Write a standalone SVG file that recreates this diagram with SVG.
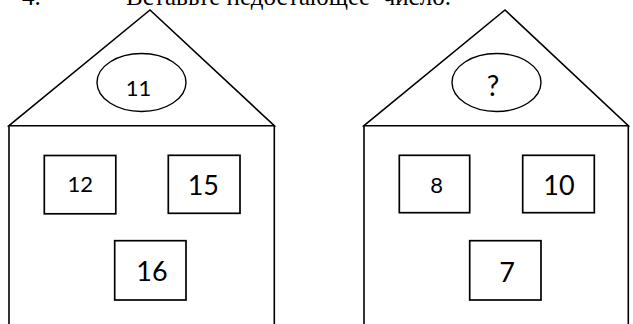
<svg xmlns="http://www.w3.org/2000/svg" width="633" height="324" viewBox="0 0 633 324">
<style>
.ln{fill:none;stroke:#000;stroke-width:1.6;stroke-linejoin:miter}
.ov{fill:#fff;stroke:#000;stroke-width:1.4}
.win{fill:#fff;stroke:#000;stroke-width:1.7}
.s{font-family:Lato,"Open Sans",sans-serif;font-size:22px;text-anchor:middle;fill:#000}
.b{font-family:Lato,"Open Sans",sans-serif;font-size:27px;text-anchor:middle;fill:#000}
.q{font-family:Lato,"Open Sans",sans-serif;font-size:28px;text-anchor:middle;fill:#000}
.t{font-family:"Liberation Serif","Times New Roman",serif;font-size:25px;fill:#000}
</style>
<rect width="633" height="324" fill="#fff"/>
<text class="t" x="22" y="5">4.</text>
<text class="t" x="126" y="5" xml:space="preserve">Вставьте недостающее  число.</text>
<g id="house1">
<path class="ln" d="M9,125.7 L150,10 L274.3,125.7 Z"/>
<path class="ln" d="M9,324 V125.7 M274.3,125.7 V324"/>
</g>
<g id="roof1"><ellipse class="ov" cx="141.5" cy="82.5" rx="44.5" ry="29"/><text class="s" x="138.5" y="96">11</text></g>
<g id="w1a"><rect class="win" x="44.3" y="155.5" width="71.5" height="58.3"/><text class="s" x="80.2" y="192">12</text></g>
<g id="w1b"><rect class="win" x="168.3" y="155.3" width="71.7" height="58"/><text class="b" x="203.3" y="194.5">15</text></g>
<g id="w1c"><rect class="win" x="114.7" y="240.7" width="71.3" height="59.3"/><text class="b" x="152" y="281">16</text></g>
<g id="house2">
<path class="ln" d="M364,125.7 L505,10 L628.3,125.7 Z"/>
<path class="ln" d="M364,324 V125.7 M628.3,125.7 V324"/>
</g>
<g id="roof2"><ellipse class="ov" cx="496.5" cy="82.5" rx="44.5" ry="29"/><text class="q" x="493" y="96">?</text></g>
<g id="w2a"><rect class="win" x="399.3" y="155.3" width="70.4" height="57.4"/><text class="s" x="436.7" y="193">8</text></g>
<g id="w2b"><rect class="win" x="522.7" y="155.3" width="71.6" height="57.4"/><text class="b" x="559" y="194.5">10</text></g>
<g id="w2c"><rect class="win" x="469.7" y="240.7" width="71.3" height="59.3"/><text class="b" x="507" y="282">7</text></g>
<g id="connectors"/>
</svg>
